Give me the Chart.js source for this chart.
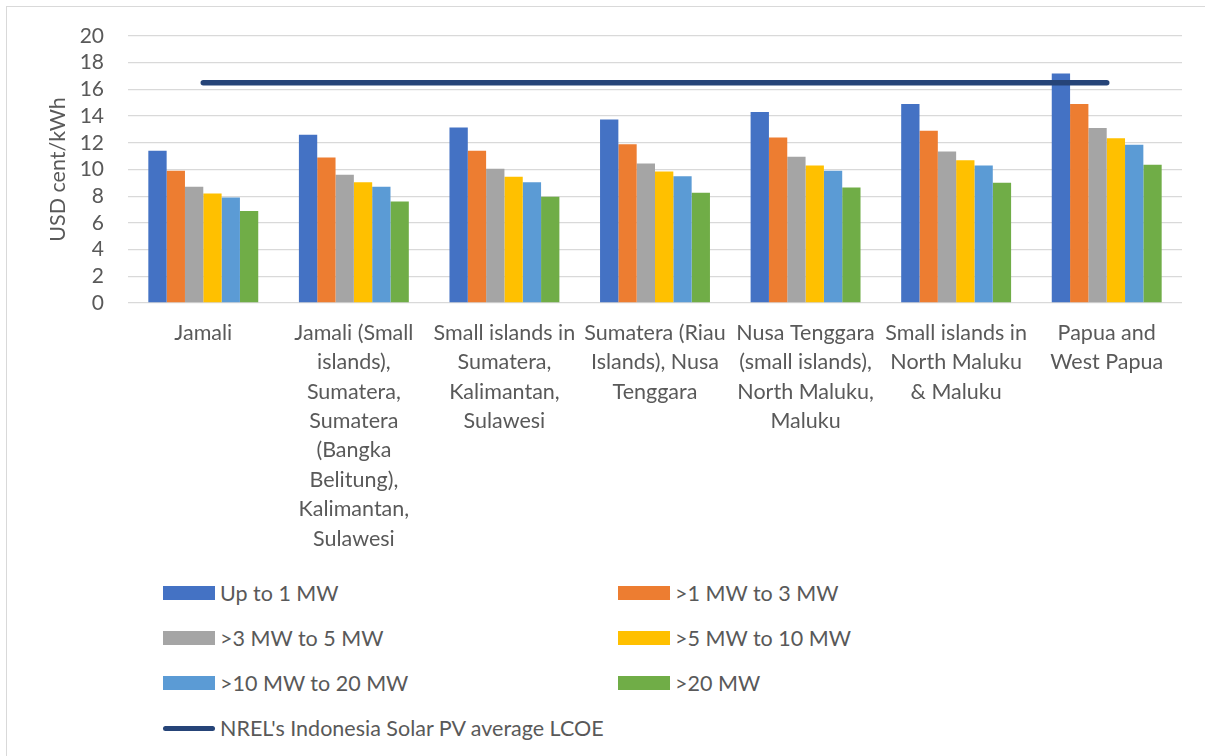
<!DOCTYPE html>
<html><head><meta charset="utf-8">
<script src="https://cdn.jsdelivr.net/npm/chart.js@4"></script>
<style>
html,body{margin:0;padding:0;background:#fff;}
#wrap{position:relative;width:1205px;height:756px;overflow:hidden;font-family:Lato, sans-serif;}
#frame{position:absolute;left:6px;top:6px;width:1300px;height:900px;border:1.5px solid #d9d9d9;box-sizing:border-box;}
#cbox{position:absolute;left:0;top:0;width:1205px;height:565px;}
.item{position:absolute;display:flex;align-items:center;height:26px;font-size:21.5px;color:#595959;white-space:nowrap;}
.sw{width:52px;height:14px;margin-right:5px;flex:none;}
.ln{width:52px;height:5px;border-radius:3px;margin-right:5px;flex:none;}
</style></head>
<body><div id="wrap"><div id="frame"></div><div id="cbox"><canvas id="c"></canvas></div><div id="legend"></div></div>
<script>
const categories = [
  ["Jamali"],
  ["Jamali (Small", "islands),", "Sumatera,", "Sumatera", "(Bangka", "Belitung),", "Kalimantan,", "Sulawesi"],
  ["Small islands in", "Sumatera,", "Kalimantan,", "Sulawesi"],
  ["Sumatera (Riau", "Islands), Nusa", "Tenggara"],
  ["Nusa Tenggara", "(small islands),", "North Maluku,", "Maluku"],
  ["Small islands in", "North Maluku", "& Maluku"],
  ["Papua and", "West Papua"]
];
const barLabels = ["Up to 1 MW", ">1 MW to 3 MW", ">3 MW to 5 MW", ">5 MW to 10 MW", ">10 MW to 20 MW", ">20 MW"];
const lineLabel = "NREL's Indonesia Solar PV average LCOE";
const upTo1MW    = [11.4, 12.6, 13.15, 13.75, 14.3, 14.9, 17.2];
const mw1to3     = [9.9, 10.9, 11.4, 11.9, 12.4, 12.9, 14.9];
const mw3to5     = [8.7, 9.6, 10.05, 10.45, 10.95, 11.35, 13.1];
const mw5to10    = [8.2, 9.05, 9.45, 9.85, 10.3, 10.7, 12.35];
const mw10to20   = [7.9, 8.7, 9.05, 9.5, 9.9, 10.3, 11.85];
const mw20plus   = [6.9, 7.6, 7.95, 8.25, 8.65, 9.0, 10.35];
const nrelLcoe   = [16.5, 16.5, 16.5, 16.5, 16.5, 16.5, 16.5];
const yMin = 0, yMax = 20, yStep = 2;

const barColors = ["#4472C4", "#ED7D31", "#A5A5A5", "#FFC000", "#5B9BD5", "#70AD47"];
const lineColor = "#264478";
const barSeries = [upTo1MW, mw1to3, mw3to5, mw5to10, mw10to20, mw20plus];

const datasets = barSeries.map((d, i) => ({
  type: 'bar', label: barLabels[i], data: d, backgroundColor: barColors[i],
  borderWidth: 0, categoryPercentage: 0.73, barPercentage: 1.0, order: 1
}));
datasets.push({
  type: 'line', label: lineLabel, data: nrelLcoe, borderColor: lineColor, backgroundColor: lineColor,
  borderWidth: 5.5, pointRadius: 0, borderCapStyle: 'round', tension: 0, order: 0
});

const tickFont = {family: 'Lato, sans-serif', size: 21.5, lineHeight: 1.37};
new Chart(document.getElementById('c'), {
  data: {labels: categories, datasets},
  options: {
    responsive: true, maintainAspectRatio: false, animation: false,
    layout: {padding: {left: 40, right: 23, top: 36, bottom: 0}},
    plugins: {legend: {display: false}, tooltip: {enabled: false}},
    scales: {
      x: {
        grid: {display: false, drawTicks: false},
        border: {display: false},
        ticks: {color: '#595959', font: tickFont, maxRotation: 0, minRotation: 0, autoSkip: false, padding: 15},
        afterFit: s => { s.height = 262; }
      },
      y: {
        min: yMin, max: yMax,
        grid: {color: '#d9d9d9', lineWidth: 1.3, drawTicks: false},
        border: {display: false},
        ticks: {stepSize: yStep, autoSkip: false, color: '#595959', font: {family: 'Lato, sans-serif', size: 21, lineHeight: 1}, padding: 24},
        title: {display: true, text: 'USD cent/kWh', color: '#595959', font: {family: 'Lato, sans-serif', size: 21.5}, padding: {top: 5, bottom: 0}},
        afterFit: s => { s.width = 88; }
      }
    }
  }
});

// HTML legend built from dataset labels/colors
const legend = document.getElementById('legend');
const rowY = [593, 638, 683, 728];
const colX = [163, 618];
barLabels.forEach((lab, i) => {
  const el = document.createElement('div');
  el.className = 'item';
  el.style.left = colX[i % 2] + 'px';
  el.style.top = (rowY[Math.floor(i / 2)] - 13) + 'px';
  el.innerHTML = '<span class="sw" style="background:' + barColors[i] + '"></span><span></span>';
  el.lastChild.textContent = lab;
  legend.appendChild(el);
});
const le = document.createElement('div');
le.className = 'item';
le.style.left = colX[0] + 'px';
le.style.top = (rowY[3] - 13) + 'px';
le.innerHTML = '<span class="ln" style="background:' + lineColor + '"></span><span></span>';
le.lastChild.textContent = lineLabel;
legend.appendChild(le);
</script>
</body></html>
